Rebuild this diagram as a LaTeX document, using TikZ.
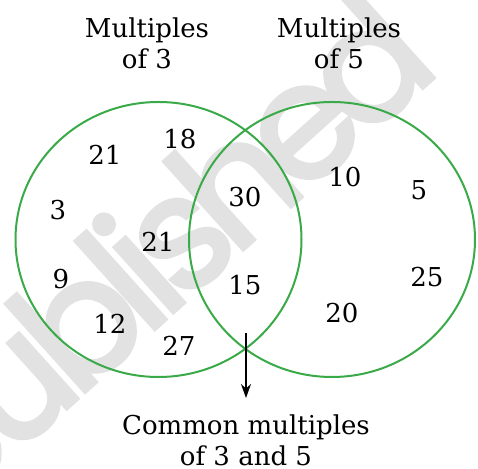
\documentclass[tikz,border=0pt]{standalone}
\usepackage{fontspec}
\setmainfont{DejaVu Serif}
\newfontfamily\markfont[FakeBold=2.5,LetterSpace=-9]{Poppins}
\usetikzlibrary{arrows.meta,shapes.geometric}
\definecolor{setgreen}{RGB}{58,170,73}
\definecolor{markgray}{RGB}{226,226,226}
\begin{document}
\begin{tikzpicture}[
x=0.5pt,y=-0.5pt,
set/.style={ellipse,draw=setgreen,line width=1pt,inner sep=0,minimum width=143pt,minimum height=137.5pt},
number/.style={font=\fontsize{13}{15.5}\selectfont,inner sep=0},
title/.style={align=center,font=\fontsize{13}{15.5}\selectfont,inner sep=0},
pointer/.style={-{Stealth[length=7pt,width=5pt]},line width=0.8pt},
watermark/.style={font=\markfont\fontsize{80}{80}\selectfont,text=markgray,rotate=42,inner sep=0},
]
\useasboundingbox(0,0)rectangle(478,469);
%watermark
\node[watermark](mark)at(165,266){published};

%sets
\node[set](three)at(158.5,239.5){};
\node[set](five)at(332,239.5){};

%titles
\node[title](ttl3)at(147,43){Multiples\\of 3};
\node[title](ttl5)at(339,43){Multiples\\of 5};

%multiples of 3 only
\node[number](n21a)at(105,155){21};
\node[number](n18)at(180,139){18};
\node[number](n3)at(58,210){3};
\node[number](n21b)at(158,242){21};
\node[number](n9)at(61,279){9};
\node[number](n12)at(110,324){12};
\node[number](n27)at(179,346){27};
%common
\node[number](n30)at(245,197){30};
\node[number](n15)at(245,285){15};
%multiples of 5 only
\node[number](n10)at(345,177){10};
\node[number](n5)at(419,190){5};
\node[number](n25)at(427,277){25};
\node[number](n20)at(342,313){20};

%common label
\coordinate(start)at(246,333);
\node[title,anchor=north](common)at(246,414){Common multiples\\of 3 and 5};
\draw[pointer,shorten >=8pt](start)--(common.north);

\end{tikzpicture}
\end{document}
